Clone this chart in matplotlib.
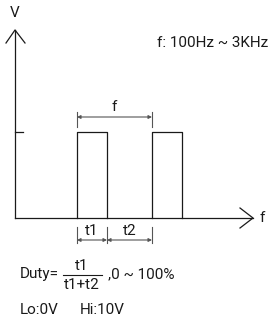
import matplotlib.pyplot as plt

# schematic of the PWM output, drawn in pixel units (y grows downward)
axis_x0 = 15          # y-axis position
axis_y0 = 218         # baseline (0 V)
axis_top = 30         # tip of V arrow
axis_right = 253      # tip of f arrow
level_hi = 132        # pulse high level
pulse_starts = [77, 152]
pulse_width = 30
dim_f_y = 117
dim_t_y = 240

font = ['Roboto', 'DejaVu Sans']
fs = 11
line_c = '#1a1a1a'
dim_c = '#555555'

fig = plt.figure(figsize=(2.7, 3.22), dpi=100)
ax = fig.add_axes([0, 0, 1, 1])
ax.set_xlim(0, 270)
ax.set_ylim(322, 0)
ax.axis('off')

lw = 0.9
# axes
ax.plot([axis_x0, axis_x0], [axis_y0, axis_top], color=line_c, lw=lw)
ax.plot([axis_x0 - 9, axis_x0, axis_x0 + 10], [axis_top + 13, axis_top, axis_top + 13], color=line_c, lw=lw)
ax.plot([axis_x0, axis_right], [axis_y0, axis_y0], color=line_c, lw=lw)
ax.plot([axis_right - 13, axis_right, axis_right - 13], [axis_y0 - 10, axis_y0, axis_y0 + 10], color=line_c, lw=lw)
# hi level tick
ax.plot([axis_x0, axis_x0 + 8], [level_hi, level_hi], color=line_c, lw=lw)

# pulses
for s in pulse_starts:
    ax.plot([s, s, s + pulse_width, s + pulse_width], [axis_y0, level_hi, level_hi, axis_y0],
            color=line_c, lw=lw)

# dimension: period f
p0, p1 = pulse_starts[0], pulse_starts[1]
for x in (p0, p1):
    ax.plot([x, x], [dim_f_y - 5, dim_f_y + 10], color=dim_c, lw=0.8)
ax.annotate('', xy=(p0, dim_f_y), xytext=(p1, dim_f_y),
            arrowprops=dict(arrowstyle='<|-|>', color=dim_c, lw=0.8, mutation_scale=5,
                            shrinkA=0, shrinkB=0))
ax.text((p0 + p1) / 2, 107, 'f', ha='center', va='center', fontsize=fs, family=font, color=line_c)

# dimension: t1, t2
t_edges = [p0, p0 + pulse_width, p1]
for x in t_edges:
    ax.plot([x, x], [dim_t_y - 13, dim_t_y + 3], color=dim_c, lw=0.8)
for a, b, lab in [(t_edges[0], t_edges[1], 't1'), (t_edges[1], t_edges[2], 't2')]:
    ax.annotate('', xy=(a, dim_t_y), xytext=(b, dim_t_y),
                arrowprops=dict(arrowstyle='<|-|>', color=dim_c, lw=0.8, mutation_scale=5,
                                shrinkA=0, shrinkB=0))
    ax.text((a + b) / 2, 231, lab, ha='center', va='center', fontsize=fs, family=font, color=line_c)

# labels
ax.text(axis_x0, 13, 'V', ha='center', va='center', fontsize=fs, family=font, color=line_c)
ax.text(262, axis_y0, 'f', ha='center', va='center', fontsize=fs, family=font, color=line_c)
ax.text(157, 43, 'f: 100Hz ~ 3KHz', ha='left', va='center', fontsize=fs, family=font, color=line_c)

ax.text(20, 274, 'Duty=', ha='left', va='center', fontsize=fs, family=font, color=line_c)
ax.text(82, 266, 't1', ha='center', va='center', fontsize=fs, family=font, color=line_c)
ax.plot([63, 102], [275, 275], color=line_c, lw=0.8)
ax.text(82, 285, 't1+t2', ha='center', va='center', fontsize=fs, family=font, color=line_c)
ax.text(108, 274, ',0 ~ 100%', ha='left', va='center', fontsize=fs, family=font, color=line_c)
ax.text(20, 310, 'Lo:0V', ha='left', va='center', fontsize=fs, family=font, color=line_c)
ax.text(80, 310, 'Hi:10V', ha='left', va='center', fontsize=fs, family=font, color=line_c)

fig.savefig('out.png', dpi=100)
